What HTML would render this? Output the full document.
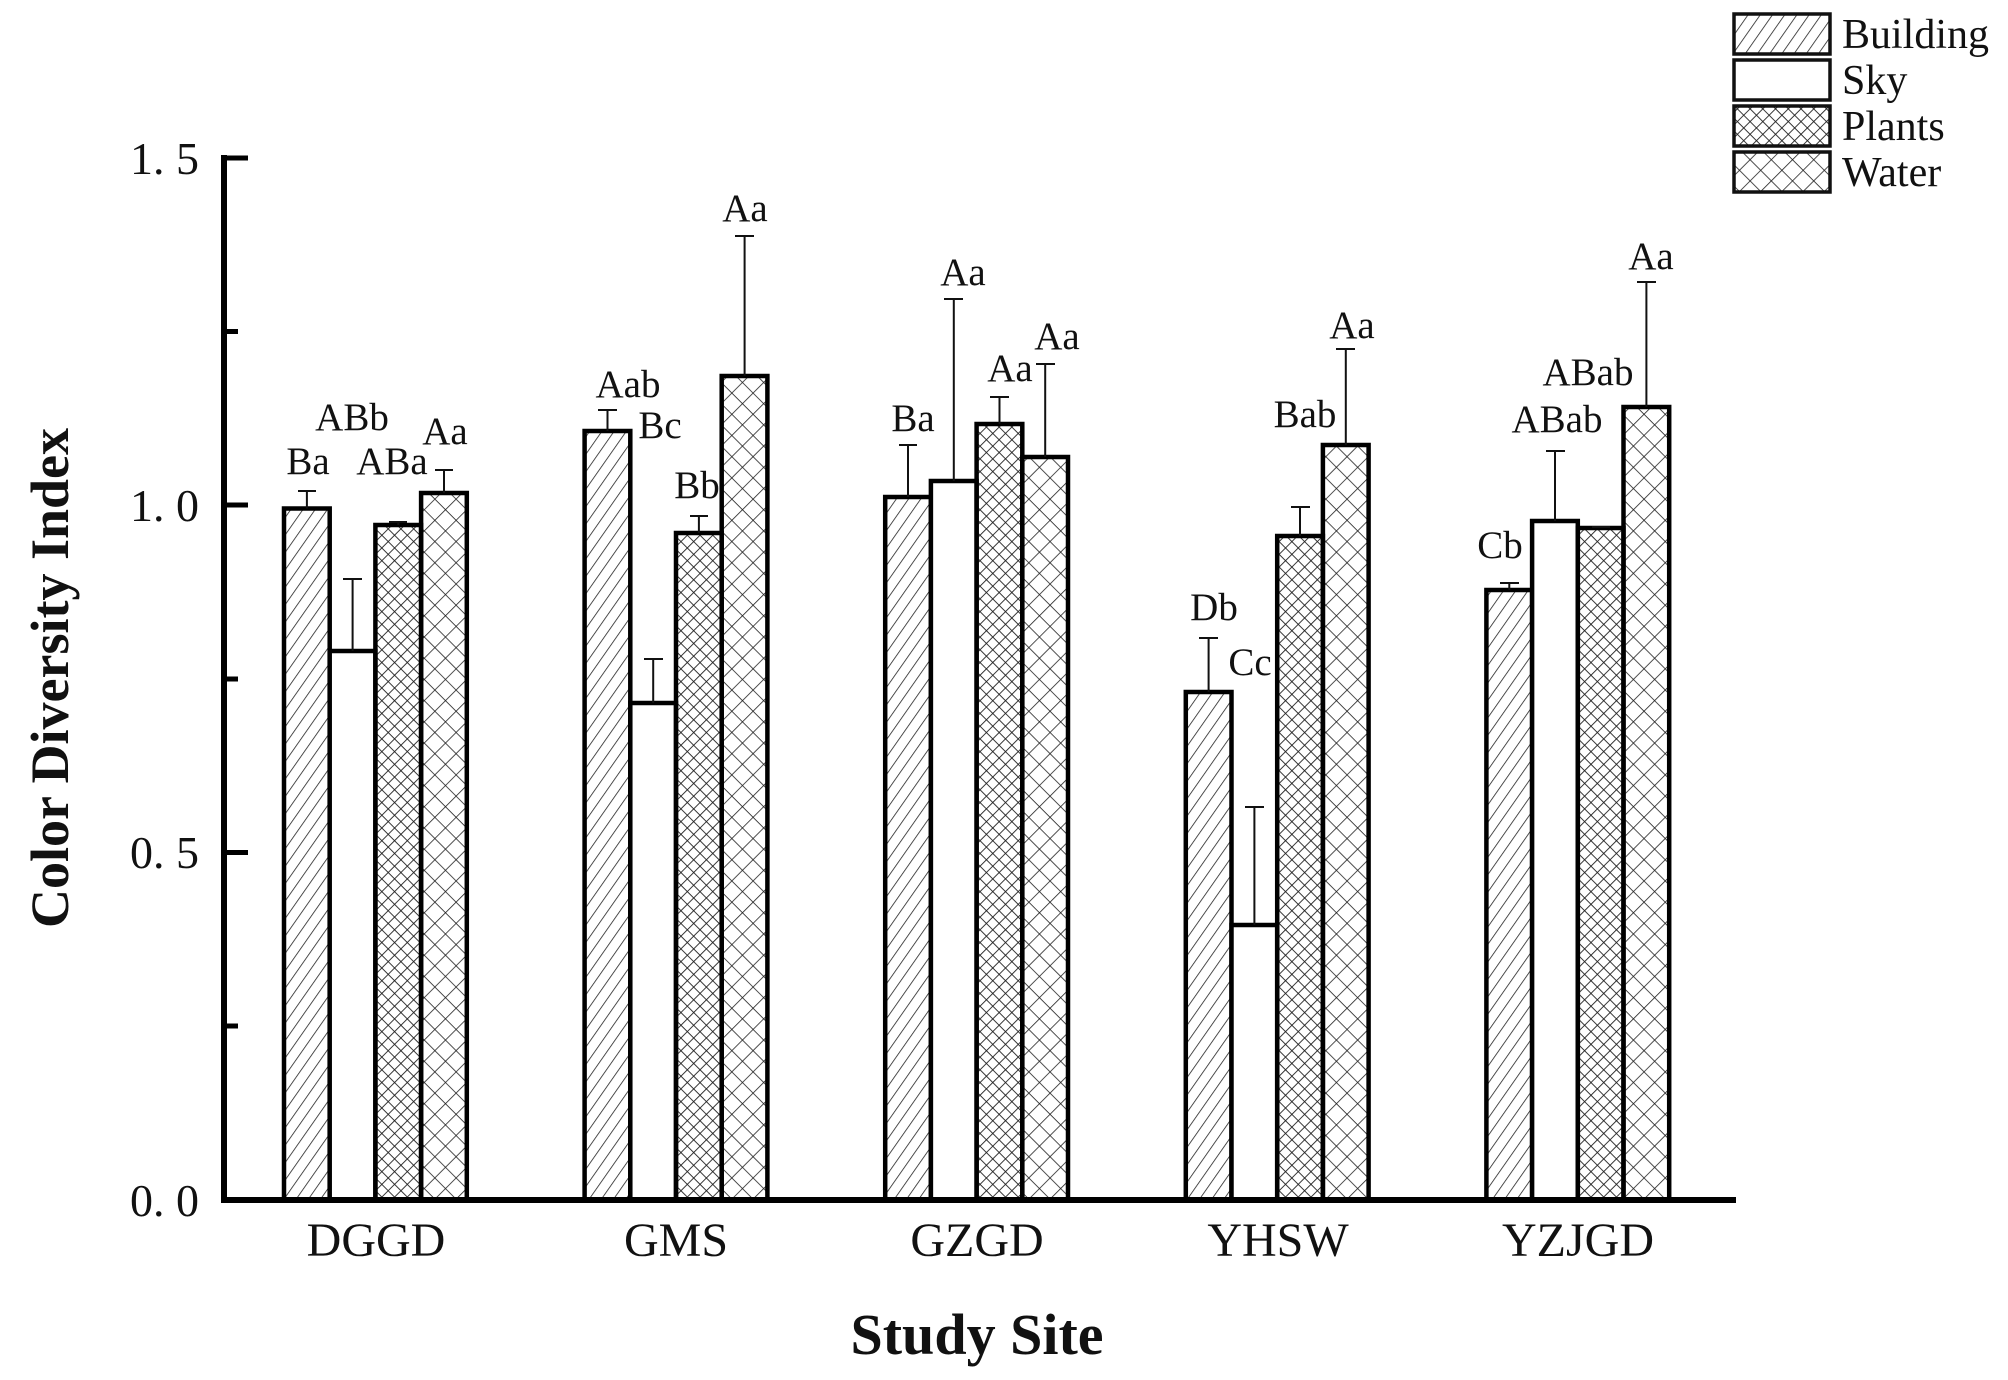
<!DOCTYPE html>
<html><head><meta charset="utf-8"><style>
html,body{margin:0;padding:0;background:#fff;}
svg{display:block;}
text{font-family:"Liberation Serif",serif;fill:#111;}
</style></head><body>
<svg width="2008" height="1380" viewBox="0 0 2008 1380" xmlns="http://www.w3.org/2000/svg">
<defs>
<pattern id="pb" width="10" height="10" patternUnits="userSpaceOnUse" patternTransform="rotate(35)">
<line x1="0" y1="0" x2="0" y2="10" stroke="#222" stroke-width="1.6"/>
</pattern>
<pattern id="pp" width="9" height="9" patternUnits="userSpaceOnUse" patternTransform="rotate(45)">
<line x1="0" y1="0" x2="0" y2="9" stroke="#222" stroke-width="1.8"/>
<line x1="0" y1="0" x2="9" y2="0" stroke="#222" stroke-width="1.8"/>
</pattern>
<pattern id="pw" width="15" height="15" patternUnits="userSpaceOnUse" patternTransform="rotate(45)">
<line x1="0" y1="0" x2="0" y2="15" stroke="#222" stroke-width="1.6"/>
<line x1="0" y1="0" x2="15" y2="0" stroke="#222" stroke-width="1.6"/>
</pattern>
</defs>
<g stroke="#000" stroke-width="4.5">
<rect x="284" y="508.5" width="45.7" height="691.5" fill="url(#pb)"/>
<rect x="329.7" y="651" width="45.7" height="549" fill="#fff"/>
<rect x="375.4" y="525" width="45.7" height="675" fill="url(#pp)"/>
<rect x="421.1" y="493" width="45.7" height="707" fill="url(#pw)"/>
<rect x="584.6" y="431" width="45.7" height="769" fill="url(#pb)"/>
<rect x="630.3" y="703" width="45.7" height="497" fill="#fff"/>
<rect x="676" y="533" width="45.7" height="667" fill="url(#pp)"/>
<rect x="721.7" y="376" width="45.7" height="824" fill="url(#pw)"/>
<rect x="885.2" y="497" width="45.7" height="703" fill="url(#pb)"/>
<rect x="930.9" y="481" width="45.7" height="719" fill="#fff"/>
<rect x="976.6" y="424" width="45.7" height="776" fill="url(#pp)"/>
<rect x="1022.3" y="457" width="45.7" height="743" fill="url(#pw)"/>
<rect x="1185.8" y="692" width="45.7" height="508" fill="url(#pb)"/>
<rect x="1231.5" y="925" width="45.7" height="275" fill="#fff"/>
<rect x="1277.2" y="536" width="45.7" height="664" fill="url(#pp)"/>
<rect x="1322.9" y="445" width="45.7" height="755" fill="url(#pw)"/>
<rect x="1486.4" y="590" width="45.7" height="610" fill="url(#pb)"/>
<rect x="1532.1" y="521" width="45.7" height="679" fill="#fff"/>
<rect x="1577.8" y="528" width="45.7" height="672" fill="url(#pp)"/>
<rect x="1623.5" y="407" width="45.7" height="793" fill="url(#pw)"/>
</g>
<g stroke="#111" stroke-width="2" fill="none">
<path d="M306.9 508.5V491M298 491h18M352.6 651V579M343 579h19M398.3 525V522M389 522h18M444 493V470M435 470h18"/>
<path d="M607.5 431V410M598 410h19M653.2 703V659M644 659h19M698.9 533V516M690 516h18M744.6 376V236M735 236h19"/>
<path d="M908 497V445M899 445h18M953.8 481V299M944 299h19M999.5 424V397M990 397h19M1045.2 457V364M1036 364h19"/>
<path d="M1208.6 692V638M1199 638h19M1254.4 925V807M1245 807h19M1300 536V507M1291 507h19M1345.8 445V349M1336 349h19"/>
<path d="M1509.3 590V583M1500 583h19M1555 521V451M1546 451h19M1600.7 528V527M1592 527h18M1646.4 407V282M1637 282h19"/>
</g>
<g stroke="#000">
<line x1="224" y1="155" x2="224" y2="1203" stroke-width="6"/>
<line x1="221" y1="1200" x2="1736" y2="1200" stroke-width="6"/>
<g stroke-width="5">
<line x1="224" y1="158" x2="248" y2="158"/>
<line x1="224" y1="505" x2="248" y2="505"/>
<line x1="224" y1="852.5" x2="248" y2="852.5"/>
<line x1="224" y1="331.5" x2="238" y2="331.5"/>
<line x1="224" y1="679" x2="238" y2="679"/>
<line x1="224" y1="1026" x2="238" y2="1026"/>
</g>
</g>
<g font-size="46" text-anchor="end">
<text x="199" y="174">1. 5</text>
<text x="199" y="521">1. 0</text>
<text x="199" y="868">0. 5</text>
<text x="199" y="1216">0. 0</text>
</g>
<g font-size="48" text-anchor="middle">
<text x="376" y="1256">DGGD</text>
<text x="676" y="1256">GMS</text>
<text x="977" y="1256">GZGD</text>
<text x="1278" y="1256">YHSW</text>
<text x="1578" y="1256">YZJGD</text>
</g>
<text x="977" y="1354" font-size="58" font-weight="bold" text-anchor="middle">Study Site</text>
<text transform="translate(68,678) rotate(-90)" font-size="54" font-weight="bold" text-anchor="middle">Color Diversity Index</text>
<g font-size="39" text-anchor="middle">
<text x="308" y="474">Ba</text><text x="352" y="430">ABb</text><text x="392" y="474">ABa</text><text x="445" y="444">Aa</text>
<text x="628" y="397">Aab</text><text x="660" y="438">Bc</text><text x="697" y="498">Bb</text><text x="745" y="221">Aa</text>
<text x="913" y="431">Ba</text><text x="963" y="285">Aa</text><text x="1010" y="381">Aa</text><text x="1057" y="349">Aa</text>
<text x="1214" y="620">Db</text><text x="1250" y="675">Cc</text><text x="1305" y="427">Bab</text><text x="1352" y="338">Aa</text>
<text x="1500" y="558">Cb</text><text x="1557" y="432">ABab</text><text x="1588" y="385">ABab</text><text x="1651" y="269">Aa</text>
</g>
<g stroke="#111" stroke-width="3.5">
<rect x="1734" y="14" width="96" height="40" fill="url(#pb)"/>
<rect x="1734" y="60" width="96" height="40" fill="#fff"/>
<rect x="1734" y="106" width="96" height="40" fill="url(#pp)"/>
<rect x="1734" y="152" width="96" height="40" fill="url(#pw)"/>
</g>
<g font-size="42">
<text x="1842" y="48">Building</text>
<text x="1842" y="94">Sky</text>
<text x="1842" y="140">Plants</text>
<text x="1842" y="186">Water</text>
</g>
</svg>
</body></html>
